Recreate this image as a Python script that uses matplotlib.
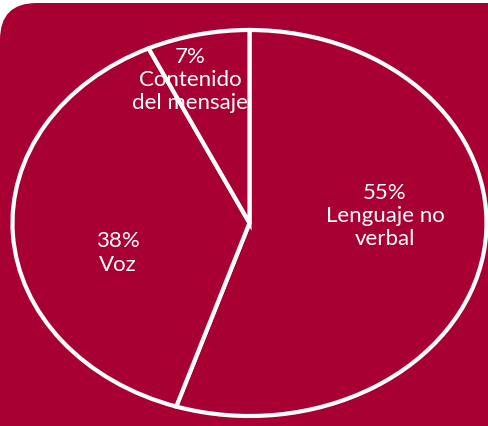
import matplotlib
matplotlib.use('Agg')
import matplotlib.pyplot as plt
from matplotlib.patches import FancyBboxPatch

# datos del gráfico
porcentajes = [55, 38, 7]
categorias = ['Lenguaje no\nverbal', 'Voz', 'Contenido\ndel mensaje']

FONDO = '#a80032'
BLANCO = 'white'

fig = plt.figure(figsize=(4.89, 4.27), dpi=100)
fig.patch.set_facecolor('white')

# fondo granate con esquina redondeada
fondo = FancyBboxPatch((0, -0.2), 1.3, 0.2 + 423 / 427,
                       boxstyle='round,pad=0,rounding_size=0.075',
                       transform=fig.transFigure, facecolor=FONDO,
                       edgecolor='none', mutation_aspect=489 / 427, zorder=-10)
fig.patches.append(fondo)

ax = fig.add_axes([0, 0, 1, 1])
ax.set_facecolor('none')

wedges, _ = ax.pie(porcentajes, startangle=90, counterclock=False,
                   colors=[FONDO] * len(porcentajes),
                   wedgeprops=dict(edgecolor=BLANCO, linewidth=3))

# elipse: centro (249.5, 224) px, radios 237 x 193 px
ax.set_aspect('auto')
ax.set_xlim(-249.5 / 237, (489 - 249.5) / 237)
ax.set_ylim(-(427 - 224) / 193, 224 / 193)
ax.axis('off')

pos_etiquetas = [(0.572, 0.041), (-0.555, -0.150), (-0.251, 0.746)]
for p, cat, (x, y) in zip(porcentajes, categorias, pos_etiquetas):
    ax.text(x, y, f'{p}%\n{cat}', ha='center', va='center', color=BLANCO,
            fontsize=16, family='Lato', fontweight='normal', linespacing=1.2)

fig.savefig('out.png', dpi=100, facecolor=fig.get_facecolor())
